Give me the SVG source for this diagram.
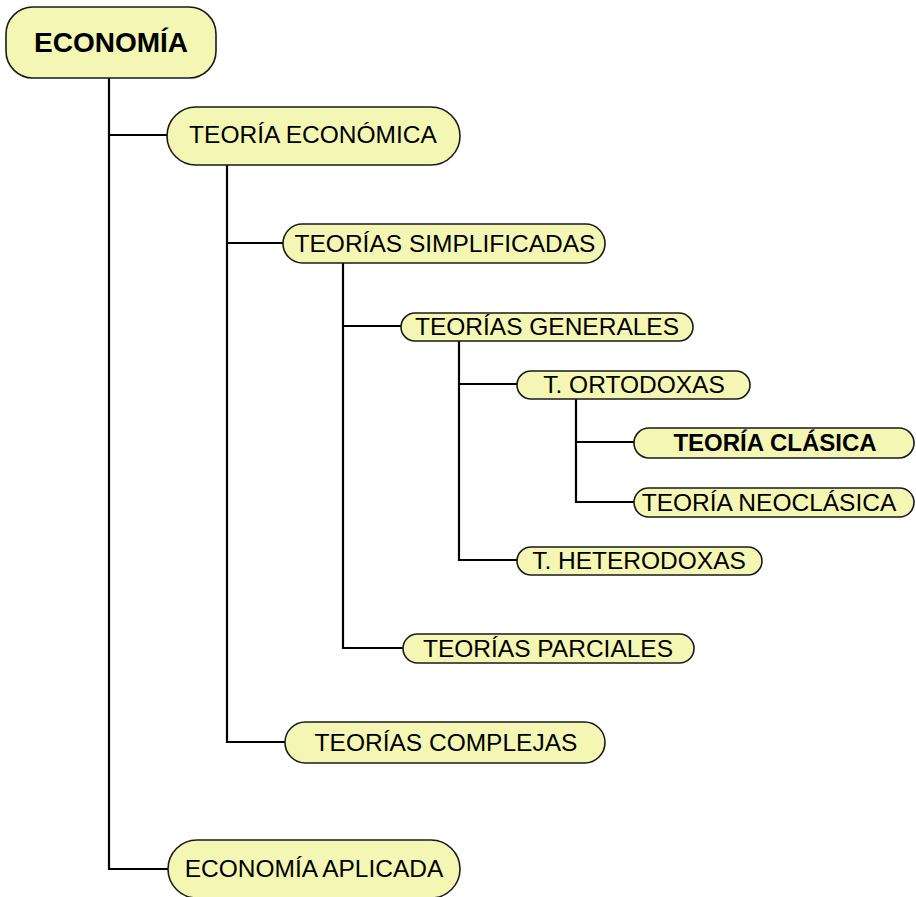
<svg xmlns="http://www.w3.org/2000/svg" width="916" height="897" viewBox="0 0 916 897">
<style>
.n{fill:#f4f7b3;stroke:#1a1a1a;stroke-width:1.6}
.t{font-family:"Liberation Sans",Arial,sans-serif;font-size:24.5px;fill:#000;text-anchor:middle}
.b{font-weight:bold;font-size:24px}
.c{fill:none;stroke:#000;stroke-width:2.2}
</style>
<rect width="916" height="897" fill="#fff"/>
<g id="connectors">
<path class="c" d="M109 78V869H168M109 135H167"/>
<path class="c" d="M227 165V742H285M227 243H283"/>
<path class="c" d="M343 263V648H403M343 326H401"/>
<path class="c" d="M459 341V560H517M459 384H517"/>
<path class="c" d="M576 399V502H634M576 442H634"/>
</g>
<g id="economia"><rect class="n" x="6" y="7" width="210" height="71" rx="27"/><text class="t b" x="111" y="52" style="font-size:28px">ECONOMÍA</text></g>
<g id="teoria-economica"><rect class="n" x="167" y="107" width="293" height="58" rx="29"/><text class="t" x="313" y="143">TEORÍA ECONÓMICA</text></g>
<g id="teorias-simplificadas"><rect class="n" x="283" y="224" width="322" height="39" rx="19.5"/><text class="t" x="445" y="252">TEORÍAS SIMPLIFICADAS</text></g>
<g id="teorias-generales"><rect class="n" x="401" y="313" width="292" height="28" rx="14"/><text class="t" x="547" y="335">TEORÍAS GENERALES</text></g>
<g id="t-ortodoxas"><rect class="n" x="517" y="371" width="233" height="28" rx="14"/><text class="t" x="634" y="393">T. ORTODOXAS</text></g>
<g id="teoria-clasica"><rect class="n" x="634" y="428" width="280" height="30" rx="15"/><text class="t b" x="775" y="451">TEORÍA CLÁSICA</text></g>
<g id="teoria-neoclasica"><rect class="n" x="634" y="488" width="280" height="29" rx="14.5"/><text class="t" x="769" y="511">TEORÍA NEOCLÁSICA</text></g>
<g id="t-heterodoxas"><rect class="n" x="517" y="547" width="245" height="28" rx="14"/><text class="t" x="639" y="569">T. HETERODOXAS</text></g>
<g id="teorias-parciales"><rect class="n" x="403" y="634" width="291" height="29" rx="14.5"/><text class="t" x="548" y="657">TEORÍAS PARCIALES</text></g>
<g id="teorias-complejas"><rect class="n" x="285" y="722" width="320" height="41" rx="20.5"/><text class="t" x="446" y="751">TEORÍAS COMPLEJAS</text></g>
<g id="economia-aplicada"><rect class="n" x="168" y="840" width="292" height="58" rx="29"/><text class="t" x="314" y="877">ECONOMÍA APLICADA</text></g>
</svg>
